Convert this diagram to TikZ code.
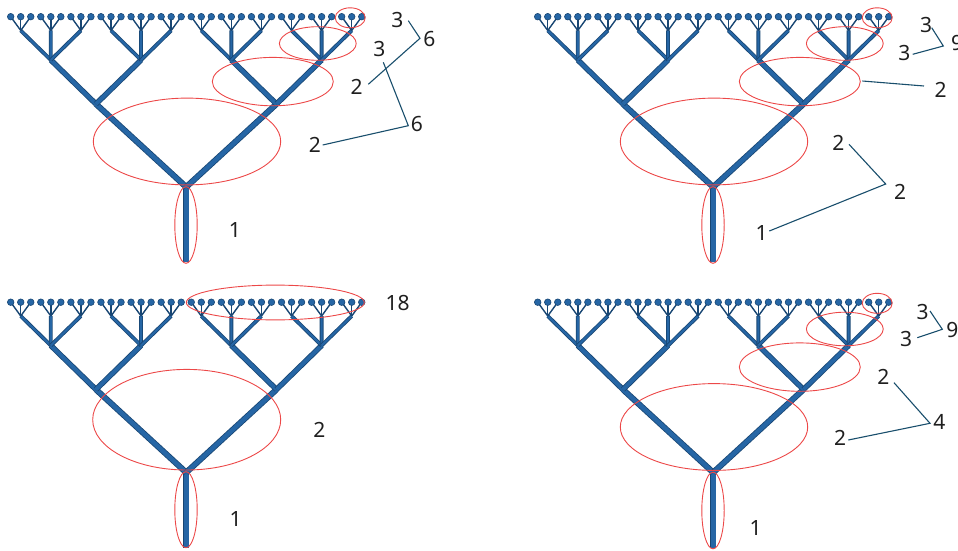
\documentclass[tikz,border=0pt]{standalone}
\usepackage{fontspec}
\setmainfont{Noto Sans}
\definecolor{brdark}{RGB}{24,70,115}
\definecolor{brlight}{RGB}{38,102,165}
\definecolor{ellred}{RGB}{236,72,72}
\definecolor{linkc}{RGB}{25,78,108}
\tikzset{
  br/.style={draw=brdark, double=brlight, line width=0.8pt, line cap=butt},
  ell/.style={draw=ellred, line width=0.9pt},
  lbl/.style={font=\fontsize{21}{25}\selectfont, text=black!88, inner sep=0pt},
  lnk/.style={draw=linkc, line width=1.1pt},
}
\newcommand{\mytree}{%
  \draw[br, double distance=4.9pt] (186.2,262) -- (186.2,186);
  \foreach \m in {0,1} {
    \pgfmathsetmacro\xa{95.96+180.54*\m}
    \draw[br, double distance=4.4pt] (186.2,187) -- (\xa,104);
  }
  \foreach \j in {0,...,3} {
    \pgfmathsetmacro\xa{95.96+180.54*floor(\j/2)}
    \pgfmathsetmacro\xb{50.82+90.27*\j}
    \draw[br, double distance=3.9pt] (\xa,104) -- (\xb,60);
  }
  \foreach \k in {0,...,11} {
    \pgfmathsetmacro\xa{50.82+90.27*floor(\k/3)}
    \pgfmathsetmacro\xb{20.73+30.09*\k}
    \draw[br, double distance=2.2pt] (\xa,60) -- (\xb,30.5);
  }
  \foreach \i in {0,...,35} {
    \pgfmathsetmacro\xa{20.73+30.09*floor(\i/3)}
    \pgfmathsetmacro\xb{10.7+10.03*\i}
    \draw[brdark, line width=1.4pt] (\xa,30.5) -- (\xb,16.7);
    \filldraw[draw=brdark, fill=brlight, line width=0.6pt] (\xb,16.7) circle[radius=3.3pt];
  }
}
\newcommand{\stdell}{%
  \draw[ell] (186,225) ellipse[x radius=11.2pt, y radius=38.3pt];
  \draw[ell] (187,141.5) ellipse[x radius=93.7pt, y radius=43.4pt];
  \draw[ell] (272.8,81.6) ellipse[x radius=60.5pt, y radius=24.2pt];
  \draw[ell] (317.8,43.5) ellipse[x radius=38.4pt, y radius=16.8pt];
  \draw[ell] (350.2,17.8) ellipse[x radius=15pt, y radius=10pt];
}
\begin{document}
\begin{tikzpicture}[x=1pt, y=-1pt]
\useasboundingbox (0,0) rectangle (958,551);
% ---------- top left
\begin{scope}
  \mytree
  \stdell
\end{scope}
\node[lbl] (tlA) at (235,230) {1};
\node[lbl] (tlB) at (315,145) {2};
\node[lbl] (tlC) at (356.7,86.7) {2};
\node[lbl] (tlD) at (379.3,49) {3};
\node[lbl] (tlE) at (397.3,20) {3};
\node[lbl] (tlF) at (429.5,39.3) {6};
\node[lbl] (tlG) at (417,124.3) {6};
\coordinate (tlv1) at (420,38.3);
\coordinate (tlv2) at (408.3,125.7);
\draw[lnk] ([shift={(11,0.7)}]tlE.center) -- (tlv1) -- ([shift={(11.6,-2.4)}]tlC.center);
\draw[lnk] ([shift={(4,13.3)}]tlD.center) -- (tlv2) -- ([shift={(7.7,0)}]tlB.center);
% ---------- top right
\begin{scope}[shift={(527,0)}]
  \mytree
  \stdell
\end{scope}
\node[lbl] (trA) at (761.7,233.3) {1};
\node[lbl] (trB) at (838.3,143.3) {2};
\node[lbl] (trC) at (900,191.7) {2};
\node[lbl] (trD) at (940.7,90) {2};
\node[lbl] (trE) at (926,25) {3};
\node[lbl] (trF) at (904.3,53.3) {3};
\node[lbl] (trG) at (957,43.3) {9};
\coordinate (trv1) at (943.3,46);
\coordinate (trv2) at (885.7,184);
\coordinate (tre2) at (862.3,81);
\draw[lnk] ([shift={(5.7,2.7)}]trE.center) -- (trv1) -- ([shift={(8.4,1)}]trF.center);
\draw[lnk] (tre2) -- ([shift={(-16.7,-4)}]trD.center);
\draw[lnk] ([shift={(10.7,1)}]trB.center) -- (trv2) -- ([shift={(7.6,-2.3)}]trA.center);
% ---------- bottom left
\begin{scope}[shift={(0,285.5)}]
  \mytree
  \draw[ell] (186,224.2) ellipse[x radius=11.2pt, y radius=38pt];
  \draw[ell] (186.7,134.2) ellipse[x radius=94pt, y radius=50.3pt];
  \draw[ell] (275.3,17) ellipse[x radius=89pt, y radius=17.4pt];
\end{scope}
\node[lbl] (blA) at (235.7,519.3) {1};
\node[lbl] (blB) at (319.3,430) {2};
\node[lbl] (blC) at (397.7,303.3) {18};
% ---------- bottom right
\begin{scope}[shift={(527,285.5)}]
  \mytree
  \stdell
\end{scope}
\node[lbl] (brA) at (755.7,528.3) {1};
\node[lbl] (brB) at (840,438.3) {2};
\node[lbl] (brC) at (883.3,377.3) {2};
\node[lbl] (brD) at (939.3,421.7) {4};
\node[lbl] (brE) at (922.7,312.3) {3};
\node[lbl] (brF) at (906,339.3) {3};
\node[lbl] (brG) at (952.3,330) {9};
\coordinate (brv1) at (942.3,329.3);
\coordinate (brv2) at (930,423.3);
\draw[lnk] ([shift={(7.3,-1.3)}]brE.center) -- (brv1) -- ([shift={(11.3,-1.6)}]brF.center);
\draw[lnk] ([shift={(10.7,5.4)}]brC.center) -- (brv2) -- ([shift={(8.3,1.7)}]brB.center);
\end{tikzpicture}
\end{document}
